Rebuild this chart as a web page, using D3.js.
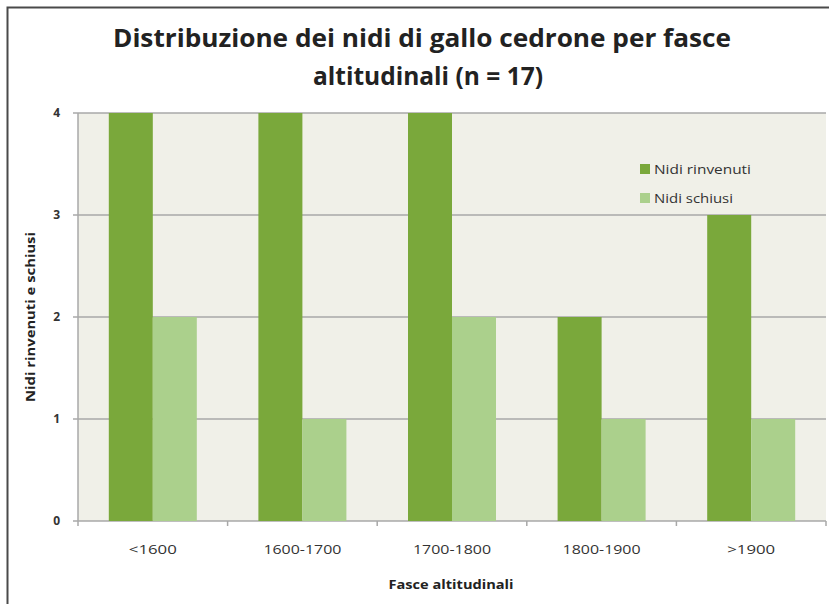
<!DOCTYPE html>
<html><head><meta charset="utf-8">
<script src="https://cdn.jsdelivr.net/npm/d3@7"></script>
<style>body{margin:0;background:#fff}svg{display:block}</style>
</head><body>
<script>
const categories = ["<1600", "1600-1700", "1700-1800", "1800-1900", ">1900"];
const seriesNames = ["Nidi rinvenuti", "Nidi schiusi"];
const rinvenuti = [4, 4, 4, 2, 3];
const schiusi = [2, 1, 2, 1, 1];
const yTicks = [0, 1, 2, 3, 4];
const colors = ["#7aa83b", "#abd08c"];

const W = 829, H = 604;
const svg = d3.select("body").append("svg").attr("width", W).attr("height", H);
const m = {left: 78, right: 826, top: 113, bottom: 521};

// frame
svg.append("path").attr("d", `M7.5,${H} L7.5,7.5 L${W},7.5`).attr("fill", "none").attr("stroke", "#4a4a4a").attr("stroke-width", 2);

// title
const font = "'Open Sans', 'Liberation Sans', sans-serif";
const title = svg.append("text").attr("text-anchor", "middle").attr("font-family", font)
  .attr("font-weight", "bold").attr("font-size", 25).attr("fill", "#222");
title.append("tspan").attr("x", 422).attr("y", 47).attr("textLength", 618).attr("lengthAdjust", "spacingAndGlyphs").text("Distribuzione dei nidi di gallo cedrone per fasce");
title.append("tspan").attr("x", 428).attr("y", 85).attr("textLength", 230).attr("lengthAdjust", "spacingAndGlyphs").text("altitudinali (n = 17)");

const x = d3.scaleBand().domain(categories).range([m.left, m.right]).paddingInner(0).paddingOuter(0);
const x1 = d3.scaleBand().domain(seriesNames).range([0, x.bandwidth()]).paddingInner(0).paddingOuter(0.7);
const y = d3.scaleLinear().domain([0, 4]).range([m.bottom, m.top]);

svg.append("rect").attr("x", m.left).attr("y", m.top).attr("width", m.right - m.left).attr("height", m.bottom - m.top).attr("fill", "#f0f0e8");

// gridlines
svg.append("g").selectAll("line").data(yTicks).join("line")
  .attr("x1", m.left - 5).attr("x2", m.right).attr("y1", d => y(d)).attr("y2", d => y(d))
  .attr("stroke", "#a8a8a8").attr("stroke-width", 1.5);

// bars
const data = categories.map((c, i) => ({c, vals: [rinvenuti[i], schiusi[i]]}));
const groups = svg.append("g").selectAll("g").data(data).join("g").attr("transform", d => `translate(${x(d.c)},0)`);
groups.selectAll("rect").data(d => d.vals.map((v, j) => ({v, s: seriesNames[j], j}))).join("rect")
  .attr("x", d => x1(d.s)).attr("width", x1.bandwidth())
  .attr("y", d => y(d.v)).attr("height", d => y(0) - y(d.v)).attr("fill", d => colors[d.j]);

// left axis line
svg.append("line").attr("x1", m.left).attr("x2", m.left).attr("y1", m.top).attr("y2", m.bottom).attr("stroke", "#a8a8a8").attr("stroke-width", 1.5);

// y axis
const yAxis = svg.append("g").attr("transform", `translate(${m.left},0)`)
  .call(d3.axisLeft(y).tickValues(yTicks).tickFormat(d3.format("d")).tickSize(0).tickPadding(18));
yAxis.select(".domain").remove();
yAxis.selectAll("text").attr("font-family", font).attr("font-size", 12).attr("font-weight", "bold").attr("fill", "#333");

// x axis
const xAxis = svg.append("g").attr("transform", `translate(0,${m.bottom})`)
  .call(d3.axisBottom(x).tickSize(0).tickPadding(24));
xAxis.select(".domain").remove();
xAxis.selectAll("text").attr("font-family", font).attr("font-size", 13).attr("fill", "#333")
  .attr("textLength", d => d.length > 5 ? 78 : 48).attr("lengthAdjust", "spacingAndGlyphs");
svg.append("g").selectAll("line").data(categories.concat([null])).join("line")
  .attr("x1", (d, i) => m.left + i * x.step()).attr("x2", (d, i) => m.left + i * x.step())
  .attr("y1", m.bottom).attr("y2", m.bottom + 5).attr("stroke", "#a8a8a8").attr("stroke-width", 1.5);

// axis titles
svg.append("text").attr("x", 451).attr("y", 589).attr("text-anchor", "middle").attr("font-family", font)
  .attr("font-weight", "bold").attr("font-size", 13).attr("fill", "#222")
  .attr("textLength", 125).attr("lengthAdjust", "spacingAndGlyphs").text("Fasce altitudinali");
svg.append("text").attr("transform", "translate(35,317) rotate(-90)").attr("text-anchor", "middle").attr("font-family", font)
  .attr("font-weight", "bold").attr("font-size", 12.5).attr("fill", "#222")
  .attr("textLength", 170).attr("lengthAdjust", "spacingAndGlyphs").text("Nidi rinvenuti e schiusi");

// legend
const legW = [97, 79];
const leg = svg.append("g").selectAll("g").data(seriesNames).join("g")
  .attr("transform", (d, i) => `translate(640,${164 + i * 29})`);
leg.append("rect").attr("width", 10).attr("height", 10).attr("fill", (d, i) => colors[i]);
leg.append("text").attr("x", 14).attr("y", 10).attr("font-family", font).attr("font-size", 13).attr("fill", "#333")
  .attr("textLength", (d, i) => legW[i]).attr("lengthAdjust", "spacingAndGlyphs").text(d => d);
</script>
</body></html>
